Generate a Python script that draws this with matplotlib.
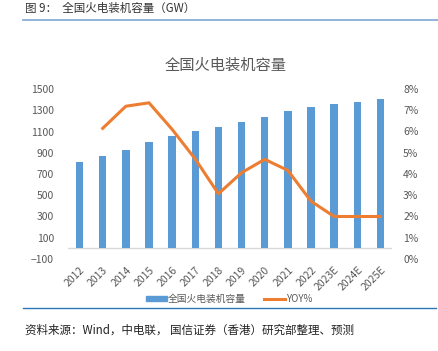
import numpy as np
import matplotlib
matplotlib.use("Agg")
import matplotlib.pyplot as plt
from matplotlib.ticker import FuncFormatter
from matplotlib.patches import Patch
from matplotlib.lines import Line2D

plt.rcParams['font.family'] = ['Noto Sans CJK SC', 'DejaVu Sans']

years = ['2012', '2013', '2014', '2015', '2016', '2017', '2018', '2019',
         '2020', '2021', '2022', '2023E', '2024E', '2025E']
capacity = [816, 870, 929, 998, 1058, 1105, 1143, 1187, 1240, 1293, 1328, 1356, 1381, 1409]
yoy = [np.nan, 6.15, 7.19, 7.35, 6.1, 4.7, 3.07, 4.06, 4.69, 4.17, 2.72, 2.0, 2.0, 2.0]

bar_color = '#5B9BD5'
line_color = '#ED7D31'
text_gray = '#595959'

fig = plt.figure(figsize=(4.38, 3.51), dpi=100)
ax = fig.add_axes([68 / 438, 1 - 259 / 351, (392 - 68) / 438, (259 - 89) / 351])

x = np.arange(len(years))
ax.bar(x, capacity, width=0.32, color=bar_color, zorder=2)
ax.set_xlim(-0.5, len(years) - 0.5)
ax.set_ylim(-100, 1500)
ax.set_yticks(np.arange(-100, 1501, 200))
ax.axhline(0, color='#D9D9D9', lw=1, zorder=1)
for s in ax.spines.values():
    s.set_visible(False)
ax.set_xticks(x)
ax.set_xticklabels(years, rotation=45, ha='right', rotation_mode='anchor')
ax.tick_params(axis='both', length=0, labelsize=7.5, colors=text_gray, pad=4)
ax.tick_params(axis='y', pad=10)

ax2 = ax.twinx()
ax2.plot(x, yoy, color=line_color, lw=2.2, zorder=3)
ax2.set_ylim(0, 8)
ax2.set_yticks(np.arange(0, 9, 1))
ax2.yaxis.set_major_formatter(FuncFormatter(lambda v, p: f'{v:.0f}%'))
for s in ax2.spines.values():
    s.set_visible(False)
ax2.tick_params(axis='y', length=0, labelsize=7.5, colors=text_gray, pad=8)

fig.text(226 / 438, 1 - 65 / 351, '全国火电装机容量', ha='center', va='center',
         fontsize=11, color=text_gray)

# legend
handles = [Patch(color=bar_color), Line2D([0], [0], color=line_color, lw=2.2)]
fig.legend(handles, ['全国火电装机容量', 'YOY%'], loc='center',
           bbox_to_anchor=(229 / 438, 1 - 299 / 351), ncol=2, frameon=False,
           fontsize=7, labelcolor=text_gray, handlelength=2.2, handleheight=0.5,
           columnspacing=1.8, handletextpad=0.1)

# header / footer
fig.text(25 / 438, 1 - 8 / 351, '图 9：  全国火电装机容量（GW）', ha='left', va='center',
         fontsize=8.3, color='#333333')
fig.add_artist(Line2D([23 / 438, 1], [1 - 20 / 351] * 2, color='#7FA7D3', lw=1.2))
fig.add_artist(Line2D([23 / 438, 436 / 438], [1 - 308 / 351] * 2, color='#2E75B6', lw=1))
fig.text(25 / 438, 1 - 330 / 351, '资料来源：Wind，中电联， 国信证券（香港）研究部整理、预测',
         ha='left', va='center', fontsize=8.3, color='#222222')

fig.savefig('out.png', dpi=100)
